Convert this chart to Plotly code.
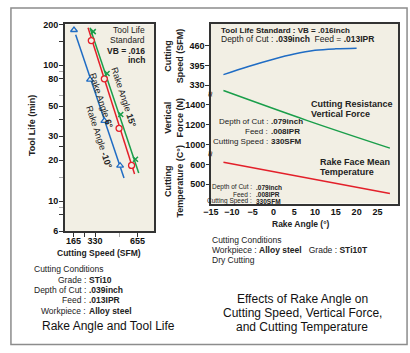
import numpy as np
import plotly.graph_objects as go

W, H = 410, 353
def px(x): return x / W
def py(y): return 1 - y / H

FONT = "Liberation Sans, Arial, sans-serif"
BLUE = "#1f6cc4"
RED = "#e3202a"
GREEN = "#1a9e4a"
BG = "#f2efe4"
AX = "#333333"

# ---------------- Left chart: Rake angle and tool life ----------------
life_tick_vals = [200, 100, 80, 50, 30, 20, 10, 6]
life_tick_text = ["200", "100", "80", "50", "30", "20", "10", "6"]
life_extra_ticks = [150, 40, 25, 8]
life_minor_ticks = [90, 60, 15, 9]
speed_tick_vals = [165, 245, 330, 655]
speed_tick_text = ["165", "", "330", "655"]
speed_minor_ticks = [520]

blue_speed = [168, 291, 401, 522]
blue_life = [182, 78.5, 39, 18.2]
red_speed = [301, 401, 514, 610]
red_life = [152, 79.5, 34.3, 18.3]
green_speed = [316, 422, 527, 640]
green_life = [177, 87, 43.4, 20.3]

blue_line_speed = [181, 552]
blue_line_life = [167.7, 14.8]
red_line_speed = [276, 633]
red_line_life = [189.3, 15.8]
green_line_speed = [291, 665]
green_line_life = [189.3, 16.1]

# ---------------- Right chart: effects of rake angle ----------------
rake_ticks = [-15, -10, -5, 0, 5, 10, 15, 20, 25]
speed_axis_ticks = [460, 395, 330]
force_axis_ticks = [1400, 1200, 1000]
temp_axis_ticks = [600, 500]

rake_speed = [-12, -6, 0, 5, 10, 15, 20]
cutting_speed = [365, 392, 416, 433, 445, 450, 452]
rake_force = [-12, 8, 28]
vertical_force = [1542, 1245, 968]
rake_temp = [-12, 8, 28]
cutting_temp = [611, 531, 452]

fig = go.Figure()

# left lines
for xs, ys, c in [(blue_line_speed, blue_line_life, BLUE),
                  (red_line_speed, red_line_life, RED),
                  (green_line_speed, green_line_life, GREEN)]:
    fig.add_trace(go.Scatter(x=xs, y=ys, mode="lines", line=dict(color=c, width=1.5),
                             xaxis="x", yaxis="y", showlegend=False, hoverinfo="skip"))
fig.add_trace(go.Scatter(x=blue_speed, y=blue_life, mode="markers", xaxis="x", yaxis="y",
                         marker=dict(symbol="triangle-up", size=6, color=BG,
                                     line=dict(color=BLUE, width=1.3)), showlegend=False))
fig.add_trace(go.Scatter(x=red_speed, y=red_life, mode="markers", xaxis="x", yaxis="y",
                         marker=dict(symbol="circle", size=6, color=BG,
                                     line=dict(color=RED, width=1.3)), showlegend=False))
fig.add_trace(go.Scatter(x=green_speed, y=green_life, mode="markers", xaxis="x", yaxis="y",
                         marker=dict(symbol="x-thin", size=5, color=GREEN,
                                     line=dict(color=GREEN, width=1.5)), showlegend=False))

# right lines
fig.add_trace(go.Scatter(x=rake_speed, y=cutting_speed, mode="lines", xaxis="x2", yaxis="y2",
                         line=dict(color=BLUE, width=1.5, shape="spline"), showlegend=False))
fig.add_trace(go.Scatter(x=rake_force, y=vertical_force, mode="lines", xaxis="x2", yaxis="y3",
                         line=dict(color=GREEN, width=1.5, shape="spline"), showlegend=False))
fig.add_trace(go.Scatter(x=rake_temp, y=cutting_temp, mode="lines", xaxis="x2", yaxis="y4",
                         line=dict(color=RED, width=1.5), showlegend=False))

tickfont = dict(family=FONT, size=9, color="#111", weight="bold")
axline = dict(showline=True, linecolor=AX, linewidth=1.5, mirror=True, ticks="outside",
              ticklen=4, tickcolor=AX, tickwidth=1.2, showgrid=False, zeroline=False,
              tickfont=tickfont)
ylike = dict(ticks="outside", ticklen=4, tickcolor=AX, tickwidth=1.2, showgrid=False,
             zeroline=False, tickfont=tickfont, ticklabelstandoff=-1)

fig.update_layout(
    width=W, height=H, margin=dict(l=0, r=0, t=0, b=0),
    paper_bgcolor="white", plot_bgcolor=BG, showlegend=False,
    font=dict(family=FONT, color="#222"),
    xaxis=dict(domain=[px(58), px(149)], range=[98, 783], anchor="y",
               tickmode="array", tickvals=speed_tick_vals, ticktext=speed_tick_text,
               minor=dict(tickvals=speed_minor_ticks, ticks="outside", ticklen=4,
                          tickcolor="#aaa", tickwidth=1.2),
               ticklabelstandoff=-4, **axline),
    yaxis=dict(domain=[py(232.7), py(20)], type="log", range=[np.log10(6), np.log10(200)],
               anchor="x", tickmode="array",
               tickvals=life_tick_vals + life_extra_ticks,
               ticktext=life_tick_text + [""] * len(life_extra_ticks),
               minor=dict(tickvals=life_minor_ticks, ticks="outside", ticklen=4,
                          tickcolor="#aaa", tickwidth=1.2),
               ticklabelstandoff=-1, **axline),
    xaxis2=dict(domain=[px(207), px(398)], range=[-15, 30], anchor="y2",
                tickmode="array", tickvals=rake_ticks,
                showline=True, linecolor=AX, linewidth=1.5, mirror=True, ticks="",
                showgrid=False, zeroline=False, tickfont=tickfont, ticklabelstandoff=-1),
    yaxis2=dict(domain=[py(204.3), py(19.3)], range=[-59.7, 532.7], anchor="x2",
                tickmode="array", tickvals=speed_axis_ticks,
                showline=True, linecolor=AX, linewidth=1.5, mirror=True, **ylike),
    yaxis3=dict(overlaying="y2", anchor="x2", side="left", range=[416, 2208],
                tickmode="array", tickvals=force_axis_ticks, showline=False, **ylike),
    yaxis4=dict(overlaying="y2", anchor="x2", side="left", range=[401.5, 1312.8],
                tickmode="array", tickvals=temp_axis_ticks, showline=False, **ylike),
)

ann = []
def txt(x, y, text, size=8.5, anchor="left", angle=0, color="#222"):
    ann.append(dict(x=px(x), y=py(y), xref="paper", yref="paper", text=text,
                    showarrow=False, xanchor=anchor, yanchor="middle", textangle=angle,
                    font=dict(family=FONT, size=size, color=color), borderpad=0))

# left chart texts
txt(140.5, 25.7, "Tool Life", anchor="right")
txt(140.5, 35.7, "Standard", anchor="right")
txt(140.5, 47.3, "<b>VB = .016</b>", anchor="right")
txt(140.5, 56.7, "<b>inch</b>", anchor="right")
txt(118.3, 95.7, "Rake Angle <b>15°</b>", size=9, anchor="center", angle=72)
txt(95, 99, "Rake Angle <b>6°</b>", size=9, anchor="center", angle=72)
txt(93.3, 136.7, "Rake Angle <b>-10°</b>", size=9, anchor="center", angle=72)
txt(25, 124, "<b>Tool Life (min)</b>", size=9, anchor="center", angle=-90)
txt(93.3, 255, "<b>Cutting Speed (SFM)</b>", anchor="center")
txt(25, 271.7, "Cutting Conditions")
for yy, lab, val in [(282.7, "Grade :", "STi10"), (293.3, "Depth of Cut :", ".039inch"),
                     (304, "Feed :", ".013IPR"), (315, "Workpiece :", "Alloy steel")]:
    txt(80.5, yy, lab, anchor="right")
    txt(82, yy, "<b>%s</b>" % val)
txt(102, 330, "Rake Angle and Tool Life", size=12, anchor="center", color="#111")

# right chart texts
txt(216.7, 26, "<b>Tool Life Standard : VB = .016inch</b>", size=8)
txt(216.7, 35, "Depth of Cut : <b>.039inch</b>&nbsp;&nbsp;Feed = <b>.013IPR</b>", size=8.5)
txt(308, 102.3, "<b>Cutting Resistance</b>", size=9)
txt(308, 112.3, "<b>Vertical Force</b>", size=9)
for yy, lab, val in [(120, "Depth of Cut :", ".079inch"), (130, "Feed :", ".008IPR"),
                     (140, "Cutting Speed :", "330SFM")]:
    txt(266, yy, lab, size=8, anchor="right")
    txt(267.5, yy, "<b>%s</b>" % val, size=8)
txt(316.7, 161.7, "<b>Rake Face Mean</b>", size=9)
txt(316.7, 172.3, "<b>Temperature</b>", size=9)
for yy, lab, val in [(187.6, "Depth of Cut :", ".079inch"), (194.8, "Feed :", ".008IPR"),
                     (202, "Cutting Speed :", "330SFM")]:
    txt(250, yy, lab, size=6.5, anchor="right")
    txt(251.5, yy, "<b>%s</b>" % val, size=6.5)
txt(169, 52, "<b>Cutting<br>Speed (SFM)</b>", size=9, anchor="center", angle=-90)
txt(169, 116, "<b>Vertical<br>Force (N)</b>", size=9, anchor="center", angle=-90)
txt(169, 182, "<b>Cutting<br>Temperature (C°)</b>", size=9, anchor="center", angle=-90)
txt(206.5, 92.7, "≈", size=10, anchor="center", angle=90, color="#111")
txt(206.5, 154, "≈", size=10, anchor="center", angle=90, color="#111")
txt(299, 225, "<b>Rake Angle (°)</b>", anchor="center")
txt(206.7, 241.7, "Cutting Conditions")
txt(206.7, 252.3, "Workpiece : <b>Alloy steel</b>&nbsp;&nbsp;&nbsp;Grade : <b>STi10T</b>")
txt(206.7, 262.7, "Dry Cutting")
txt(300, 303, "Effects of Rake Angle on", size=12, anchor="center", color="#111")
txt(300, 317, "Cutting Speed, Vertical Force,", size=12, anchor="center", color="#111")
txt(300, 331, "and Cutting Temperature", size=12, anchor="center", color="#111")

fig.update_layout(annotations=ann)
fig.add_shape(type="rect", xref="paper", yref="paper", x0=px(3), x1=px(407),
              y0=py(349.5), y1=py(3), line=dict(color="#8c8c8c", width=1.5), layer="below")

fig.write_html("out.html")
